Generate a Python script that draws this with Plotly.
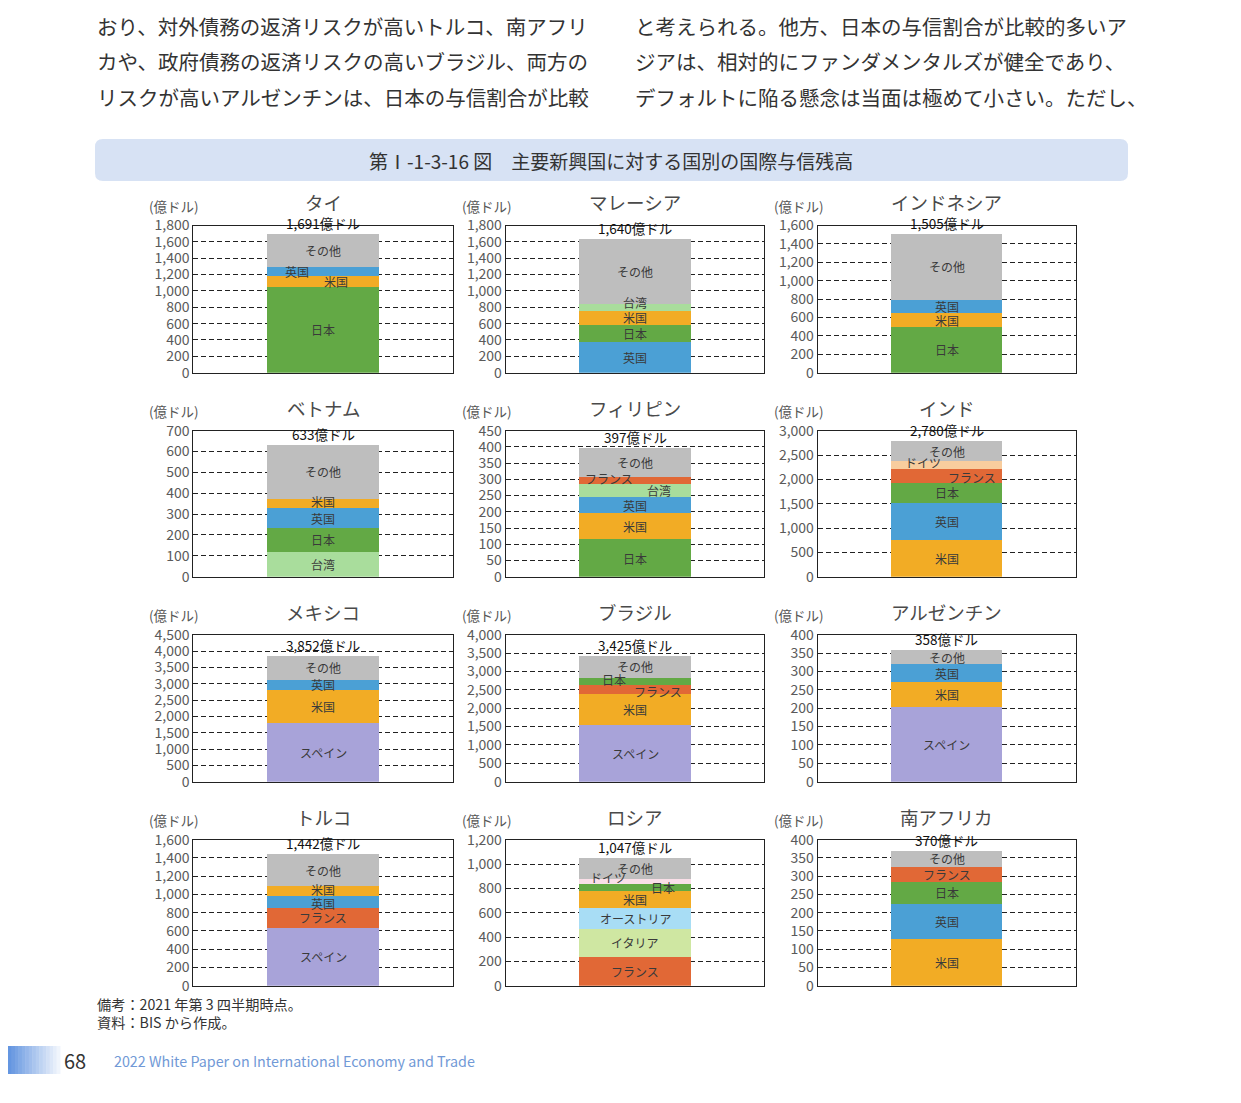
import plotly.graph_objects as go

W, H = 1241, 1103
OFF_X, OFF_Y = 8, 8   # page body margin of the html page
FONT = "Noto Sans CJK JP"

# ---------------- data ----------------
countries = ["タイ", "マレーシア", "インドネシア",
             "ベトナム", "フィリピン", "インド",
             "メキシコ", "ブラジル", "アルゼンチン",
             "トルコ", "ロシア", "南アフリカ"]
totals = [1691, 1640, 1505, 633, 397, 2780, 3852, 3425, 358, 1442, 1047, 370]
axis_max = [1800, 1800, 1600, 700, 450, 3000, 4500, 4000, 400, 1600, 1200, 400]
axis_step = [200, 200, 200, 100, 50, 500, 500, 500, 50, 200, 200, 50]

thai_lenders = ["日本", "米国", "英国", "その他"]
thai_values = [1050, 130, 110, 401]
malaysia_lenders = ["英国", "日本", "米国", "台湾", "その他"]
malaysia_values = [380, 200, 180, 75, 805]
indonesia_lenders = ["日本", "米国", "英国", "その他"]
indonesia_values = [495, 150, 150, 710]
vietnam_lenders = ["台湾", "日本", "英国", "米国", "その他"]
vietnam_values = [120, 115, 95, 43, 260]
philippines_lenders = ["日本", "米国", "英国", "台湾", "フランス", "その他"]
philippines_values = [115, 80, 50, 40, 22, 90]
india_lenders = ["米国", "英国", "日本", "フランス", "ドイツ", "その他"]
india_values = [750, 765, 415, 283, 158, 409]
mexico_lenders = ["スペイン", "米国", "英国", "その他"]
mexico_values = [1800, 1020, 300, 732]
brazil_lenders = ["スペイン", "米国", "フランス", "日本", "その他"]
brazil_values = [1550, 840, 250, 190, 595]
argentina_lenders = ["スペイン", "米国", "英国", "その他"]
argentina_values = [204, 68, 47, 39]
turkey_lenders = ["スペイン", "フランス", "英国", "米国", "その他"]
turkey_values = [635, 215, 130, 110, 352]
russia_lenders = ["フランス", "イタリア", "オーストリア", "米国", "日本", "ドイツ", "その他"]
russia_values = [238, 228, 172, 140, 58, 41, 170]
safrica_lenders = ["米国", "英国", "日本", "フランス", "その他"]
safrica_values = [128, 96, 60, 42, 44]

lenders = [thai_lenders, malaysia_lenders, indonesia_lenders,
           vietnam_lenders, philippines_lenders, india_lenders,
           mexico_lenders, brazil_lenders, argentina_lenders,
           turkey_lenders, russia_lenders, safrica_lenders]
values = [thai_values, malaysia_values, indonesia_values,
          vietnam_values, philippines_values, india_values,
          mexico_values, brazil_values, argentina_values,
          turkey_values, russia_values, safrica_values]

# ---------------- styles ----------------
colors = {
    "日本": "#63a945", "英国": "#4ba0d5", "米国": "#f2ac25", "その他": "#bebebe",
    "台湾": "#a9dd9c", "フランス": "#e16836", "スペイン": "#a8a3d9",
    "ドイツ": "#f8cd9e", "オーストリア": "#a8ddf5", "イタリア": "#cfe7a2",
}
color_override = {("ロシア", "ドイツ"): "#fadfe8"}
label_shift = {
    ("タイ", "英国"): (-26, 0), ("タイ", "米国"): (13, 0),
    ("マレーシア", "台湾"): (0, 5),
    ("ベトナム", "米国"): (0, 2), ("ベトナム", "英国"): (0, -1),
    ("トルコ", "米国"): (0, 2), ("トルコ", "英国"): (0, -1),
    ("フィリピン", "フランス"): (-26, 2), ("フィリピン", "台湾"): (24, 0),
    ("インド", "ドイツ"): (-24, 3), ("インド", "フランス"): (25, -2),
    ("ブラジル", "日本"): (-21, 2), ("ブラジル", "フランス"): (23, -2),
    ("ロシア", "ドイツ"): (-27, 4), ("ロシア", "日本"): (28, 0),
}

col_x = [(193.3, 452.7), (505.7, 764.3), (817.7, 1076.0)]
row_y = [(225.5, 372.7), (430.7, 576.7), (634.7, 781.7), (839.7, 985.7)]


def px(x):
    return (x - OFF_X) / W


def py(y):
    return 1 - (y - OFF_Y) / H


def paper_text(x, y, text, size, color, xanchor="center"):
    return dict(x=px(x), y=py(y), xref="paper", yref="paper", xanchor=xanchor, yanchor="middle",
                text=text, showarrow=False, font=dict(family=FONT, size=size, color=color))


fig = go.Figure()
annotations = []
shapes = []

for i, name in enumerate(countries):
    r, c = divmod(i, 3)
    k = "" if i == 0 else str(i + 1)
    xa, ya = "x" + k, "y" + k
    x0, x1 = col_x[c]
    y0, y1 = row_y[r]
    base = 0
    for lend, val in zip(lenders[i], values[i]):
        col = color_override.get((name, lend), colors[lend])
        fig.add_trace(go.Bar(x=[0], y=[val], width=0.43, marker=dict(color=col, line=dict(width=0)),
                             xaxis=xa, yaxis=ya, showlegend=False, hoverinfo="skip"))
        dx, dy = label_shift.get((name, lend), (0, 0))
        annotations.append(dict(x=0, y=base + val / 2, xref=xa, yref=ya, text=lend, showarrow=False,
                                xanchor="center", yanchor="middle", xshift=dx, yshift=dy,
                                font=dict(family=FONT, size=12, color="#3a3a3a")))
        base += val
    annotations.append(dict(x=0, y=totals[i], xref=xa, yref=ya, text=f"{totals[i]:,}億ドル",
                            showarrow=False, xanchor="center", yanchor="bottom", yshift=-1,
                            font=dict(family=FONT, size=13.5, color="#111")))
    annotations.append(paper_text((x0 + x1) / 2, y0 - 23, name, 18.5, "#4a4a4a"))
    annotations.append(paper_text(x0 - 46, y0 - 20, "(億ドル)", 13.5, "#555", xanchor="left"))
    fig.update_layout(**{
        "xaxis" + k: dict(domain=[px(x0), px(x1)], range=[-0.5, 0.5], showticklabels=False,
                          showgrid=False, zeroline=False, showline=True, mirror=True,
                          linecolor="#222", linewidth=1, anchor=ya, fixedrange=True,
                          automargin=False),
        "yaxis" + k: dict(domain=[py(y1), py(y0)], range=[0, axis_max[i]], dtick=axis_step[i],
                          tick0=0, tickformat=",", showgrid=True, gridcolor="#222", gridwidth=1,
                          griddash="5px,3px", zeroline=False, showline=True, mirror=True,
                          linecolor="#222", linewidth=1, anchor=xa, ticks="", automargin=False,
                          tickfont=dict(family=FONT, size=14, color="#5a5a5a")),
    })

# ---------------- page text ----------------
left_lines = ["おり、対外債務の返済リスクが高いトルコ、南アフリ",
              "カや、政府債務の返済リスクの高いブラジル、両方の",
              "リスクが高いアルゼンチンは、日本の与信割合が比較"]
right_lines = ["と考えられる。他方、日本の与信割合が比較的多いア",
               "ジアは、相対的にファンダメンタルズが健全であり、",
               "デフォルトに陥る懸念は当面は極めて小さい。ただし、"]
for j, yy in enumerate([26, 61, 97]):
    annotations.append(paper_text(95, yy, left_lines[j], 20.5, "#333", xanchor="left"))
    annotations.append(paper_text(633, yy, right_lines[j], 20.5, "#333", xanchor="left"))

# banner
bx0, bx1, by0, by1, rr = 95, 1128, 139, 181, 8
path = (f"M {px(bx0 + rr)},{py(by0)} L {px(bx1 - rr)},{py(by0)} "
        f"Q {px(bx1)},{py(by0)} {px(bx1)},{py(by0 + rr)} L {px(bx1)},{py(by1 - rr)} "
        f"Q {px(bx1)},{py(by1)} {px(bx1 - rr)},{py(by1)} L {px(bx0 + rr)},{py(by1)} "
        f"Q {px(bx0)},{py(by1)} {px(bx0)},{py(by1 - rr)} L {px(bx0)},{py(by0 + rr)} "
        f"Q {px(bx0)},{py(by0)} {px(bx0 + rr)},{py(by0)} Z")
shapes.append(dict(type="path", path=path, xref="paper", yref="paper",
                   fillcolor="#d7e2f4", line=dict(width=0), layer="below"))
annotations.append(paper_text(611, 160, "第Ⅰ-1-3-16 図　主要新興国に対する国別の国際与信残高", 19, "#333"))

# notes
annotations.append(paper_text(95, 1004, "備考：2021 年第 3 四半期時点。", 14.2, "#333", xanchor="left"))
annotations.append(paper_text(95, 1022, "資料：BIS から作成。", 14.2, "#333", xanchor="left"))

# footer gradient strip
nstrip = 15
for s in range(nstrip):
    t = s / (nstrip - 1)
    rC = int(100 + (240 - 100) * t)
    gC = int(150 + (245 - 150) * t)
    bC = int(225 + (252 - 225) * t)
    shapes.append(dict(type="rect", xref="paper", yref="paper",
                       x0=px(8 + s * 52 / nstrip), x1=px(8 + (s + 1) * 52 / nstrip + 0.5),
                       y0=py(1074), y1=py(1046), fillcolor=f"rgb({rC},{gC},{bC})",
                       line=dict(width=0), layer="below"))
annotations.append(paper_text(62, 1060, "68", 20, "#333", xanchor="left"))
annotations.append(paper_text(112, 1060, "2022 White Paper on International Economy and Trade", 14.3,
                              "#7199d6", xanchor="left"))

fig.update_layout(width=W, height=H, margin=dict(l=0, r=0, t=0, b=0, pad=0, autoexpand=False),
                  paper_bgcolor="white", plot_bgcolor="white", barmode="stack",
                  annotations=annotations, shapes=shapes, showlegend=False,
                  font=dict(family=FONT))

fig.write_html("out.html")
